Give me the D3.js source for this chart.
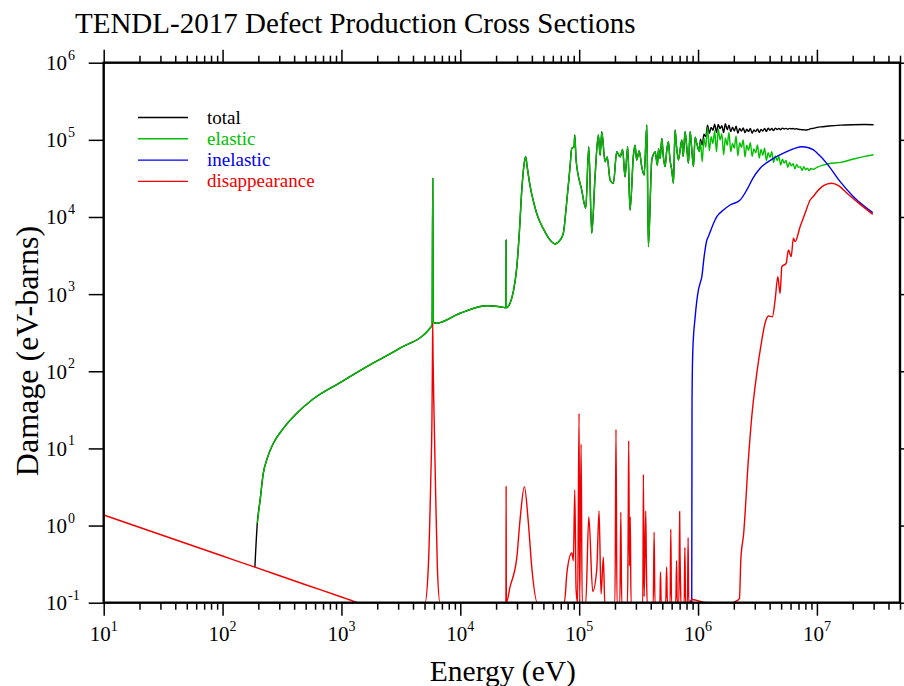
<!DOCTYPE html>
<html><head><meta charset="utf-8">
<script src="https://cdn.jsdelivr.net/npm/d3@7"></script>
<style>
body{margin:0;background:#fff}
svg{display:block}
text{font-family:"Liberation Serif","Times New Roman",Times,serif}
</style>
</head><body>
<svg id="c" width="904" height="686"></svg>
<script>
// ---------- DATA ----------
const titleText = "TENDL-2017 Defect Production Cross Sections";
const xLabelText = "Energy (eV)";
const yLabelText = "Damage (eV-barns)";
const xDomain = [10, 5e7];
const yDomain = [0.1, 1e6];
const xTickExps = [1, 2, 3, 4, 5, 6, 7];
const yTickExps = [-1, 0, 1, 2, 3, 4, 5, 6];
const seriesNames = ["total", "elastic", "inelastic", "disappearance"];
const seriesColors = ["#000000", "#00c000", "#0000f0", "#f00000"];

// elastic, resolved region (energy eV, value eV-b)
const elasticLow = [
  [196,1.07],[207,2.14],[220,4.75],[235,7.08],[267,11.6],[325,18.2],[421,28.5],[581,44],
  [1000,73],[1633,115],[3110,199],[5560,361],[5800,400],[5860,31700],[5920,430],[6300,419],
  [9960,565],[16700,708],[21600,687],[24200,667],[24300,5130],[24400,667],[26200,760],
  [28000,1100],[29900,2270],[31500,7000],[32900,22400],[34500,50000],[35500,60300],[36500,45000],
  [38700,25000],[41200,16000],[44000,11000],[50000,7000],[56000,5200],[62700,4470],[69000,5000],
  [73600,6150],[78000,14000],[83800,44900],[86600,77600],[90600,81400],
  [91800,115600],[94200,54800],[105000,22400],[113600,13000],[120400,81400],[127600,6150],
  [136000,33300],[145000,115600],[150000,63000],[155000,127600],[165000,52100],[172000,60000],[182000,30200],
  [194000,27400],[207000,70200],[221000,60300],[232000,75000],[243000,33100],[256000,81400],[268000,12300],
  [286000,63000],[295000,85000],[305000,54800],[320000,72000],[336000,44900],[352000,35000],[371000,156000],[382000,4120],
  [408000,54800],[420000,64000],[435000,70200],[455000,47000],[465000,76000],[480000,57600],[496000,104000],
  [510000,62000],[528000,44900],[545000,72000],[563000,94600],[580000,56000],
  [601000,40700],[621000,27400],[641000,134000],[660000,80000],[684000,54800],[705000,72000],[730000,100000],
  [750000,61000],[778000,127600],[800000,86000],
  [830000,50000],[858000,127600],[885000,76000],[915000,44900],[945000,108000],[976000,90000],[1026000,71000]
];

// shared energy grid above 1 MeV
const highE = [
  1.047e6,1.084e6,1.122e6,1.161e6,1.202e6,1.245e6,1.288e6,1.334e6,1.380e6,1.429e6,
  1.479e6,1.531e6,1.585e6,1.641e6,1.698e6,1.758e6,1.820e6,1.884e6,1.950e6,2.018e6,
  2.089e6,2.163e6,2.239e6,2.317e6,2.399e6,2.483e6,2.570e6,2.661e6,2.754e6,2.851e6,
  2.951e6,3.055e6,3.162e6,3.273e6,3.388e6,3.508e6,3.631e6,3.758e6,3.890e6,4.027e6,
  4.169e6,4.315e6,4.467e6,4.624e6,4.786e6,4.955e6,5.129e6,5.309e6,5.495e6,5.689e6,
  5.888e6,6.095e6,6.310e6,6.531e6,6.761e6,6.998e6,7.244e6,7.499e6,7.762e6,8.035e6,
  8.318e6,8.610e6,8.913e6,9.333e6,1.0e7,1.122e7,1.259e7,1.585e7,1.995e7,2.512e7,3.0e7
];
const elasticHighV = [
  9.5e4,5.2e4,1.05e5,8.0e4,1.45e5,7.2e4,1.1e5,9.0e4,1.3e5,7.0e4,
  1.38e5,1.0e5,1.2e5,6.4e4,1.05e5,8.5e4,1.25e5,7.0e4,9.0e4,7.8e4,
  1.12e5,6.2e4,9.2e4,8.0e4,1.0e5,6.0e4,8.5e4,7.3e4,9.2e4,6.1e4,
  7.6e4,6.8e4,8.6e4,5.8e4,7.5e4,6.3e4,7.8e4,5.4e4,6.8e4,5.9e4,
  7.0e4,5.1e4,6.2e4,5.4e4,6.1e4,4.7e4,5.6e4,5.0e4,5.4e4,4.4e4,
  5.1e4,4.6e4,4.9e4,4.2e4,4.8e4,4.4e4,4.5e4,4.0e4,4.5e4,4.1e4,
  4.3e4,4.0e4,4.25e4,4.15e4,4.4e4,4.7e4,4.9e4,5.1e4,5.6e4,6.1e4,6.4e4
];
const totalHighV = [
  1.02e5,8.6e4,1.18e5,1.1e5,1.55e5,1.22e5,1.45e5,1.33e5,1.6e5,1.25e5,
  1.58e5,1.4e5,1.52e5,1.24e5,1.62e5,1.35e5,1.55e5,1.28e5,1.46e5,1.3e5,
  1.5e5,1.22e5,1.4e5,1.3e5,1.43e5,1.24e5,1.37e5,1.28e5,1.4e5,1.22e5,
  1.34e5,1.28e5,1.38e5,1.25e5,1.36e5,1.3e5,1.4e5,1.28e5,1.42e5,1.33e5,
  1.4e5,1.32e5,1.42e5,1.36e5,1.41e5,1.35e5,1.42e5,1.38e5,1.41e5,1.37e5,
  1.41e5,1.39e5,1.4e5,1.38e5,1.39e5,1.37e5,1.36e5,1.35e5,1.35e5,1.34e5,
  1.35e5,1.37e5,1.4e5,1.41e5,1.45e5,1.48e5,1.51e5,1.55e5,1.57e5,1.58e5,1.57e5
];
const totalStart = [[187,0.289]];

const inelastic = [
  [8.85e5,0.1],[8.9e5,42],[9.04e5,189],[9.45e5,500],[1.007e6,1130],[1.04e6,1380],
  [1.076e6,1680],[1.125e6,3060],[1.185e6,5000],[1.22e6,5560],[1.39e6,9150],[1.44e6,10100],
  [1.635e6,12300],[1.86e6,14300],[2.26e6,16600],[2.57e6,22400],[2.9e6,32000],[3.33e6,42800],
  [4.31e6,57600],[5.58e6,70200],[6.5e6,77500],[7.46e6,81400],[8.5e6,79000],[9.35e6,74000],
  [1.05e7,63000],[1.21e7,49600],[1.57e7,28700],[2.03e7,18300],[2.95e7,11400]
];

const disappearance = [
  [10,1.37],[100,0.403],[187,0.289],[500,0.171],[1000,0.1186],[1200,0.1076],[1380,0.1],
  [5050,0.1],[5380,0.29],[5640,3.9],[5780,29],[5830,150],[5860,419],[5900,150],[6010,29],[6170,3.9],[6410,0.29],[6750,0.1],
  [24200,0.1],[24300,3.26],[24380,0.1],[26200,0.16],[29900,0.39],[31800,1.18],[34600,3.2],[37400,1.07],[39900,0.29],[44500,0.1],
  [75000,0.1],[79000,0.25],[86700,0.44],[89400,0.35],[91800,2.9],[94200,0.15],[97000,0.1],[99800,28.5],[101000,0.1],[103800,11.4],[106000,0.1],
  [113600,0.1],[120500,1.3],[130000,0.14],[140500,0.265],[147000,1.55],[152700,0.13],[159800,0.39],[164200,0.1],
  [200000,0.1],[204000,17.7],[208000,0.1],[220000,0.1],[224000,1.49],[228000,0.1],[255000,0.1],[258000,0.59],[261000,12.6],[265000,0.3],[269000,1.3],[273000,0.1],
  [343000,0.1],[347000,4.6],[352000,0.12],[363000,1.55],[368000,0.28],[373000,0.1],
  [420000,0.1],[427000,0.82],[434000,0.1],
  [478000,0.1],[483000,0.25],[490000,0.1],
  [535000,0.1],[544000,0.29],[552000,0.1],
  [582000,0.1],[590000,0.9],[598000,0.1],
  [650000,0.1],[660000,0.35],[668000,0.1],
  [690000,0.1],[700000,1.52],[705000,0.46],[712000,0.18],[718000,0.1],
  [765000,0.1],[775000,0.52],[785000,0.1],
  [815000,0.1],[825000,0.7],[835000,0.1],
  [890000,0.11],[1.19e6,0.1],[1.98e6,0.1],[2.09e6,0.105],[2.23e6,0.113],[2.29e6,0.36],[2.42e6,0.79],
  [2.65e6,7.1],[2.83e6,25.7],[3.12e6,94],[3.44e6,254],[3.66e6,419],[3.91e6,521],[4.22e6,510],
  [4.45e6,840],[4.69e6,1680],[4.9e6,1020],[5.07e6,2270],[5.51e6,2510],[5.76e6,3730],[6.07e6,3060],
  [6.34e6,5300],[6.56e6,4790],[7.22e6,7480],[7.95e6,11160],[8.77e6,16600],[9.35e6,18600],[1.0e7,21200],
  [1.135e7,25500],[1.33e7,27400],[1.52e7,25500],[1.79e7,20300],[2.17e7,15800],[2.95e7,10800]
];

// ---------- BUILD ----------
const elastic = elasticLow.concat(highE.map((e,i)=>[e, elasticHighV[i]]));
const total = totalStart.concat(elasticLow, highE.map((e,i)=>[e, totalHighV[i]]));
const seriesData = [total, elastic, inelastic, disappearance];

const M = {l:103.7, r:900, t:62.7, b:602.7};
const svg = d3.select("#c");
const x = d3.scaleLog().domain(xDomain).range([M.l, M.r]);
const y = d3.scaleLog().domain(yDomain).range([M.b, M.t]);

svg.append("defs").append("clipPath").attr("id","clip")
  .append("rect").attr("x",M.l).attr("y",M.t).attr("width",M.r-M.l).attr("height",M.b-M.t);

const line = d3.line().x(d=>x(d[0])).y(d=>y(d[1])).curve(d3.curveMonotoneX);
const plot = svg.append("g").attr("clip-path","url(#clip)");
seriesData.forEach((d,i)=>{
  plot.append("path").datum(d).attr("d",line).attr("fill","none")
    .attr("stroke",seriesColors[i]).attr("stroke-width",1.4).attr("stroke-linejoin","round");
});

// ticks
const allX = x.ticks();
const isMajor = v => Math.abs(Math.log10(v)-Math.round(Math.log10(v)))<1e-9;
const majorX = allX.filter(isMajor);
const minorX = allX.filter(v=>!isMajor(v));
const majorY = yTickExps.map(e=>Math.pow(10,e));

function axis(gen, vals, size, transform){
  const g = svg.append("g").attr("transform",transform)
    .call(gen.tickValues(vals).tickSize(size).tickFormat(""));
  g.select(".domain").remove();
  g.selectAll(".tick line").attr("stroke","#000").attr("stroke-width",1.5);
}
axis(d3.axisBottom(x), majorX, 13, `translate(0,${M.b})`);
axis(d3.axisBottom(x), minorX, 7, `translate(0,${M.b})`);
axis(d3.axisTop(x), majorX, 13, `translate(0,${M.t})`);
axis(d3.axisTop(x), minorX, 7, `translate(0,${M.t})`);
axis(d3.axisLeft(y), majorY, 15, `translate(${M.l},0)`);
axis(d3.axisRight(y), majorY, 15, `translate(${M.r},0)`);

svg.append("rect").attr("x",M.l).attr("y",M.t).attr("width",M.r-M.l).attr("height",M.b-M.t)
  .attr("fill","none").attr("stroke","#000").attr("stroke-width",2.4);

// x tick labels
xTickExps.forEach(e=>{
  const t = svg.append("text").attr("x",x(Math.pow(10,e))).attr("y",641)
    .attr("text-anchor","middle").attr("font-size",21).attr("fill","#000");
  t.append("tspan").text("10");
  t.append("tspan").attr("dy",-10).attr("font-size",14).text(String(e));
});
// y tick labels
yTickExps.forEach(e=>{
  const yy = y(Math.pow(10,e));
  svg.append("text").attr("x",67).attr("y",yy+7.5).attr("text-anchor","end")
    .attr("font-size",21).text("10");
  svg.append("text").attr("x",68).attr("y",yy-3).attr("text-anchor","start")
    .attr("font-size",14).text(String(e));
});

// title and axis labels
svg.append("text").attr("x",75).attr("y",33).attr("font-size",29).text(titleText);
svg.append("text").attr("x",(M.l+M.r)/2+1).attr("y",681).attr("text-anchor","middle")
  .attr("font-size",29.5).text(xLabelText);
svg.append("text").attr("transform","translate(38,351) rotate(-90)").attr("text-anchor","middle")
  .attr("font-size",32).text(yLabelText);

// legend
seriesNames.forEach((n,i)=>{
  const ly = 117.5 + i*21.3;
  svg.append("line").attr("x1",138).attr("x2",188).attr("y1",ly).attr("y2",ly)
    .attr("stroke",seriesColors[i]).attr("stroke-width",1.4);
  svg.append("text").attr("x",207).attr("y",ly+6).attr("font-size",19)
    .attr("fill",seriesColors[i]).text(n);
});
</script>
</body></html>
